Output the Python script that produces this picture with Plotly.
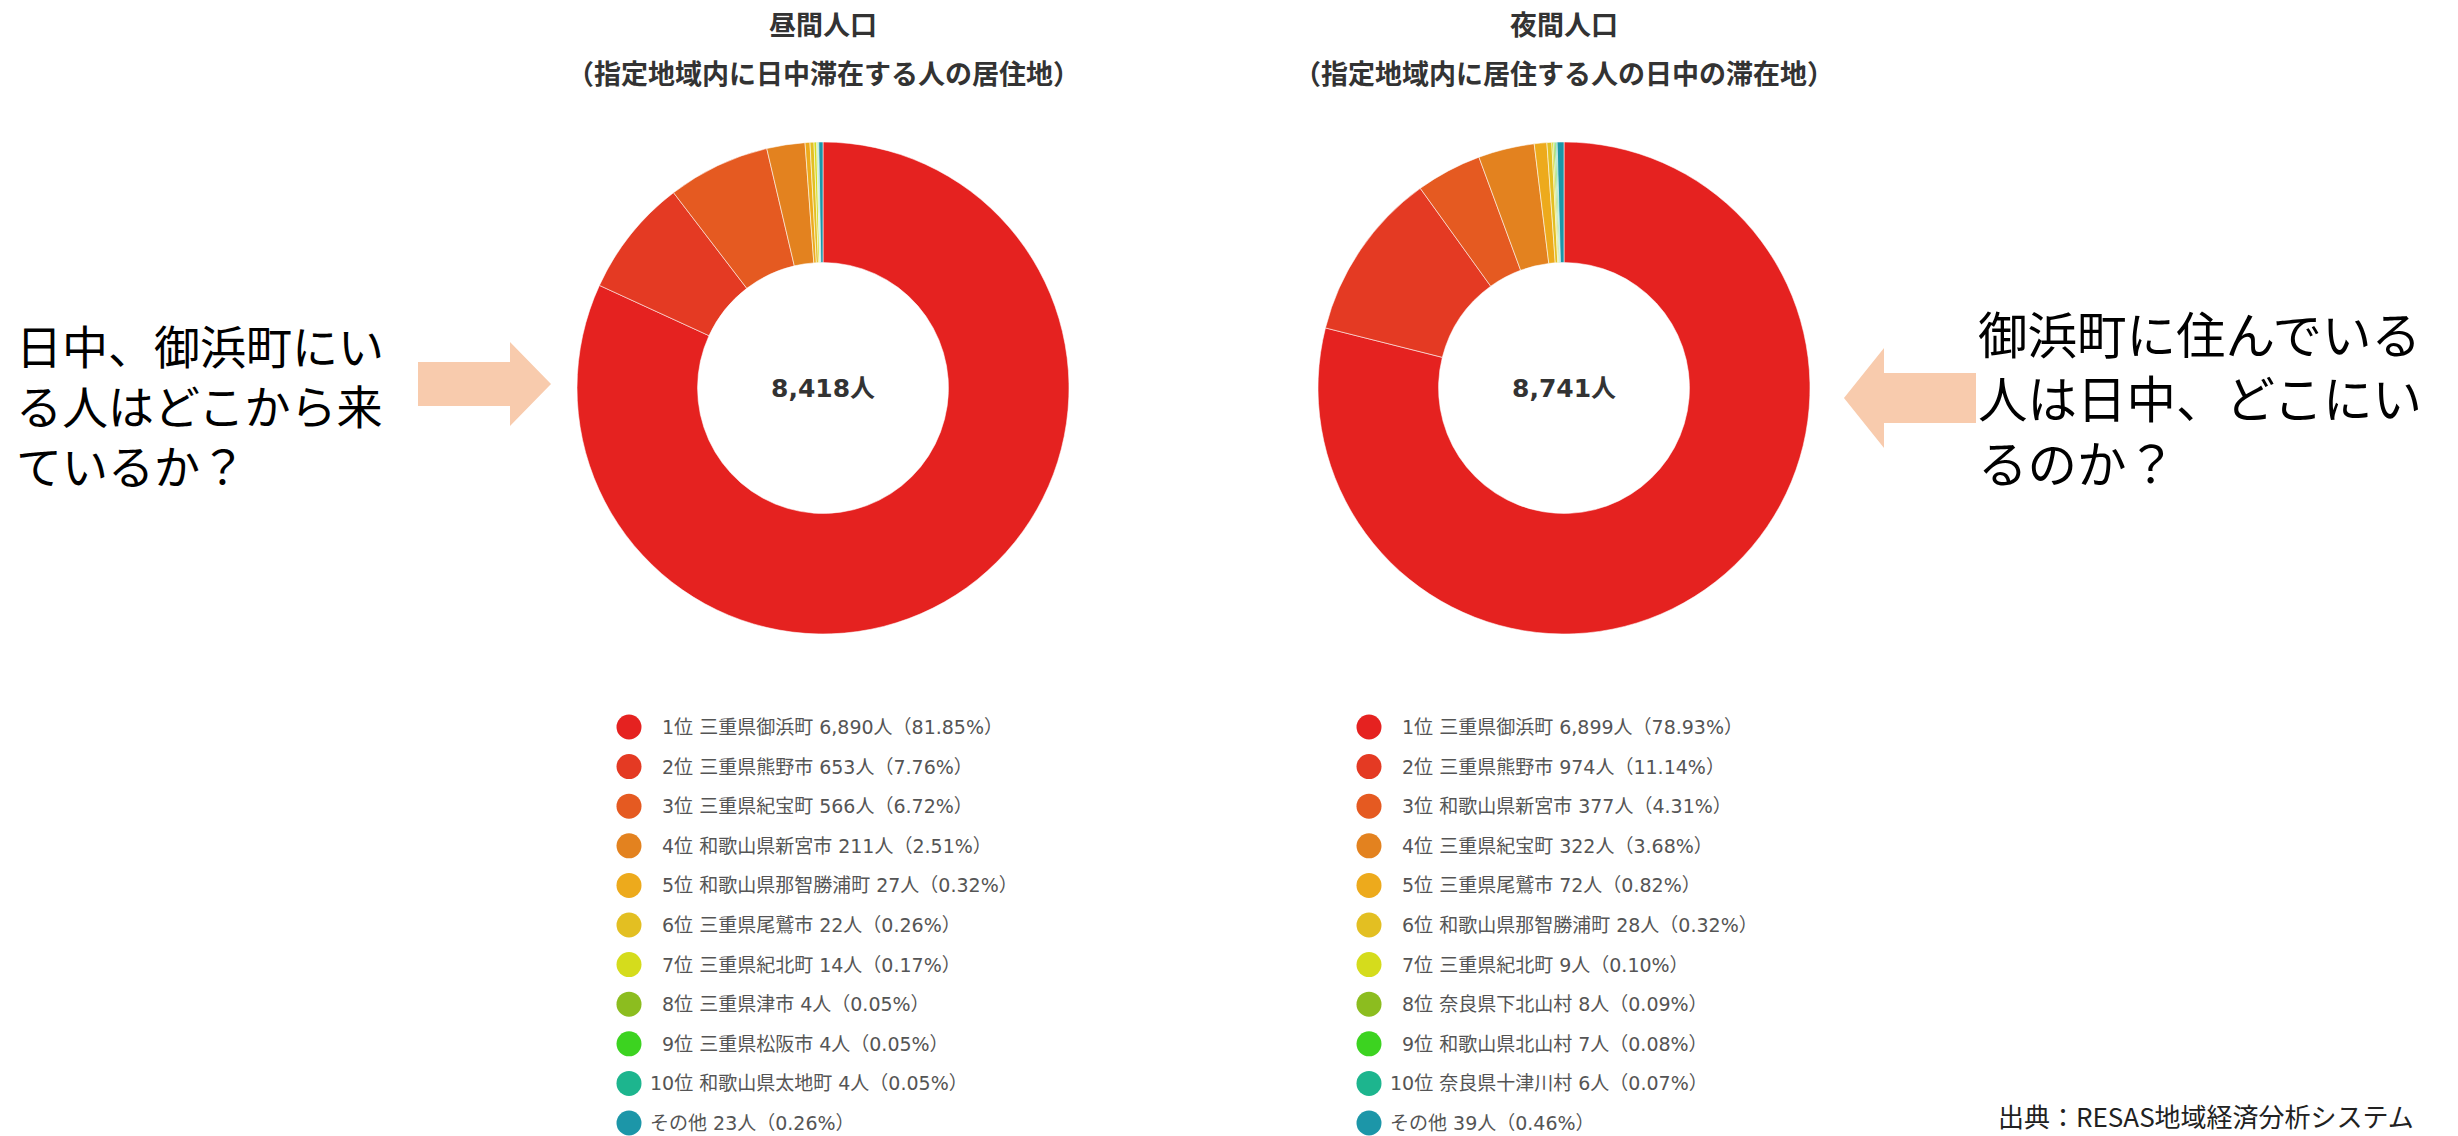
import plotly.graph_objects as go

W, H = 2458, 1136

# ---------------- data ----------------
day_ranks = ["1位", "2位", "3位", "4位", "5位", "6位", "7位", "8位", "9位", "10位", "その他"]
day_names = ["三重県御浜町", "三重県熊野市", "三重県紀宝町", "和歌山県新宮市", "和歌山県那智勝浦町",
             "三重県尾鷲市", "三重県紀北町", "三重県津市", "三重県松阪市", "和歌山県太地町", ""]
day_values = [6890, 653, 566, 211, 27, 22, 14, 4, 4, 4, 23]
day_pcts = ["81.85", "7.76", "6.72", "2.51", "0.32", "0.26", "0.17", "0.05", "0.05", "0.05", "0.26"]

night_ranks = ["1位", "2位", "3位", "4位", "5位", "6位", "7位", "8位", "9位", "10位", "その他"]
night_names = ["三重県御浜町", "三重県熊野市", "和歌山県新宮市", "三重県紀宝町", "三重県尾鷲市",
               "和歌山県那智勝浦町", "三重県紀北町", "奈良県下北山村", "和歌山県北山村", "奈良県十津川村", ""]
night_values = [6899, 974, 377, 322, 72, 28, 9, 8, 7, 6, 39]
night_pcts = ["78.93", "11.14", "4.31", "3.68", "0.82", "0.32", "0.10", "0.09", "0.08", "0.07", "0.46"]

colors = ["#E52220", "#E43A23", "#E55A21", "#E3821F", "#EDAA1C", "#E3BF22",
          "#D5DC1C", "#8CBD1F", "#3CD320", "#1DB58E", "#1C96A8"]

day_title = ["昼間人口", "（指定地域内に日中滞在する人の居住地）"]
night_title = ["夜間人口", "（指定地域内に居住する人の日中の滞在地）"]
left_note = ["日中、御浜町にい", "る人はどこから来", "ているか？"]
right_note = ["御浜町に住んでいる", "人は日中、どこにい", "るのか？"]
source = "出典：RESAS地域経済分析システム"

# ---------------- layout helpers ----------------
def px(x):
    return x / W

def py(y):
    return 1 - y / H

FONT = "Noto Sans CJK JP"
LFONT = "DejaVu Sans, Noto Sans CJK JP"
R = 246
centers = [(823, 388), (1564, 388)]

fig = go.Figure()

datasets = [
    (day_ranks, day_names, day_values, day_pcts, day_title, 629),
    (night_ranks, night_names, night_values, night_pcts, night_title, 1369),
]

annotations = []
shapes = []

for k, (ranks, names, values, pcts, title, mx) in enumerate(datasets):
    cx, cy = centers[k]
    labels = [f"{r} {n}".strip() for r, n in zip(ranks, names)]
    fig.add_trace(go.Pie(
        labels=labels, values=values, hole=0.51, sort=False, direction="clockwise",
        rotation=0, textinfo="none", hoverinfo="label+value+percent",
        marker=dict(colors=colors, line=dict(color="rgba(255,255,255,0.55)", width=1)),
        domain=dict(x=[px(cx - R), px(cx + R)], y=[py(cy + R), py(cy - R)]),
        showlegend=False,
    ))
    total = sum(values)
    annotations.append(dict(
        x=px(cx), y=py(cy), xref="paper", yref="paper", text=f"{total:,}人",
        showarrow=False, font=dict(family=LFONT, size=25, color="#333333", weight="bold"),
        xanchor="center", yanchor="middle"))
    # titles
    annotations.append(dict(x=px(cx), y=py(24), xref="paper", yref="paper", text=title[0],
                            showarrow=False, xanchor="center", yanchor="middle",
                            font=dict(family=FONT, size=27, color="#333333", weight="bold")))
    annotations.append(dict(x=px(cx), y=py(72), xref="paper", yref="paper", text=title[1],
                            showarrow=False, xanchor="center", yanchor="middle",
                            font=dict(family=FONT, size=27, color="#333333", weight="bold")))
    # legend
    rows = list(range(len(values)))
    fig.add_trace(go.Scatter(
        x=[mx] * len(rows), y=rows, mode="markers", xaxis="x", yaxis="y",
        marker=dict(size=25, color=colors, line=dict(width=0)),
        hoverinfo="skip", showlegend=False))
    for i in rows:
        nm = f" {names[i]}" if names[i] else ""
        txt = f"{ranks[i]}{nm} {values[i]:,}人（{pcts[i]}%）"
        offset = 19 if len(ranks[i]) > 2 else 31
        annotations.append(dict(
            x=mx + offset, y=i, xref="x", yref="y", text=txt, showarrow=False,
            xanchor="left", yanchor="middle",
            font=dict(family=LFONT, size=19, color="#555555")))

# side notes (one multi-line text each)
annotations.append(dict(x=px(14), y=py(404), xref="paper", yref="paper",
                        text="<br>".join(left_note), align="left",
                        showarrow=False, xanchor="left", yanchor="middle",
                        font=dict(family=FONT, size=46, color="#000000")))
annotations.append(dict(x=px(1976), y=py(397), xref="paper", yref="paper",
                        text="<br>".join(right_note), align="left",
                        showarrow=False, xanchor="left", yanchor="middle",
                        font=dict(family=FONT, size=49.5, color="#000000")))

annotations.append(dict(x=px(1996), y=py(1136), xref="paper", yref="paper", text=source,
                        showarrow=False, xanchor="left", yanchor="bottom",
                        font=dict(family=FONT, size=26, color="#222222")))

# arrows
def arrow_path(x0, x_head, x_tip, yc, sh, hh):
    pts = [(x0, yc - sh), (x_head, yc - sh), (x_head, yc - hh), (x_tip, yc),
           (x_head, yc + hh), (x_head, yc + sh), (x0, yc + sh)]
    return "M " + " L ".join(f"{px(a):.5f},{py(b):.5f}" for a, b in pts) + " Z"

shapes.append(dict(type="path", xref="paper", yref="paper",
                   path=arrow_path(418, 510, 551, 384, 22, 42),
                   fillcolor="#F8CBAD", line=dict(width=0)))
shapes.append(dict(type="path", xref="paper", yref="paper",
                   path=arrow_path(1976, 1884, 1844, 398, 25, 50),
                   fillcolor="#F8CBAD", line=dict(width=0)))

row_px0, row_step = 727, 39.6
fig.update_layout(
    width=W, height=H, margin=dict(l=0, r=0, t=0, b=0),
    paper_bgcolor="white", plot_bgcolor="rgba(0,0,0,0)",
    xaxis=dict(range=[0, W], domain=[0, 1], visible=False, fixedrange=True),
    yaxis=dict(range=[(H - row_px0) / row_step, (680 - row_px0) / row_step],
               domain=[0, 1 - 680 / H], visible=False, fixedrange=True),
    annotations=annotations, shapes=shapes, showlegend=False,
)

fig.write_html("out.html", config={"displayModeBar": False},
               post_script="document.body.style.margin='0px';document.body.style.overflow='hidden';")
